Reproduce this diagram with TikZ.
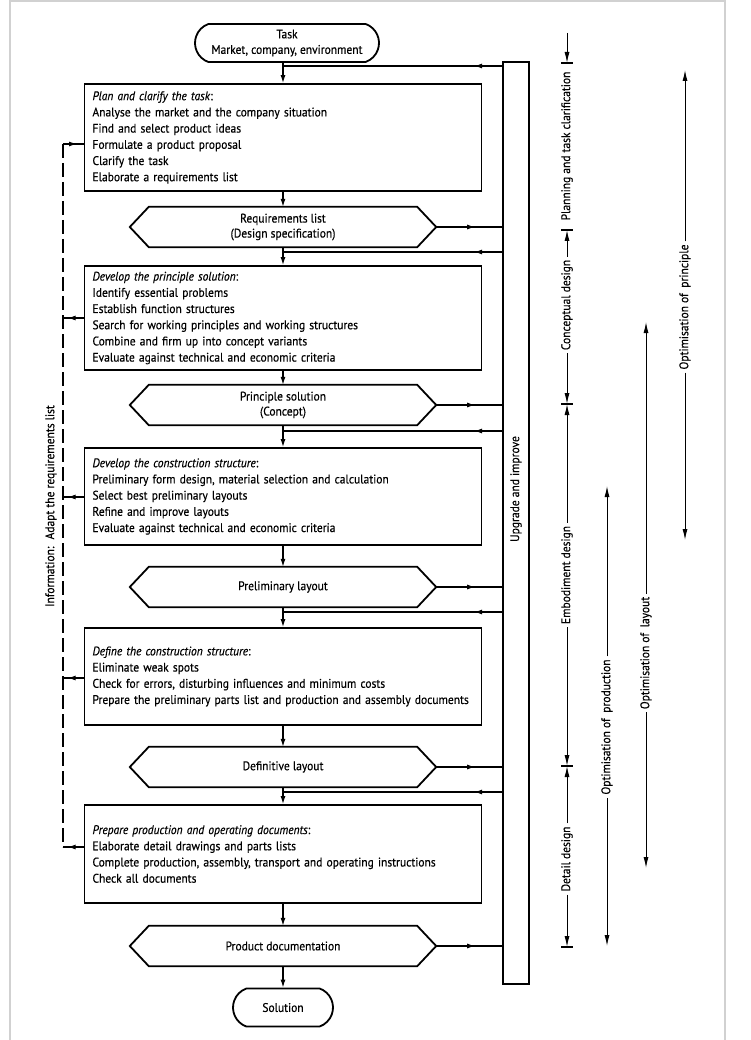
\documentclass[tikz,border=0pt]{standalone}
\usepackage{fontspec}
\setmainfont[FakeStretch=0.92,FakeBold=0.4]{PT Sans}
\usetikzlibrary{shapes.misc,arrows.meta,decorations.markings}
\begin{document}
\begin{tikzpicture}[x=1pt,y=-1pt,
  font=\fontsize{12.5}{16.2}\selectfont,
  boxst/.style={draw, line width=1.8pt, inner xsep=8pt, inner ysep=0pt, text width=381pt, align=left},
  hexst/.style={minimum width=306pt, minimum height=40pt, inner sep=0pt, align=center, font=\fontsize{12.5}{15}\selectfont},
  termst/.style={draw, line width=1.8pt, rounded rectangle, rounded rectangle arc length=140, minimum height=38pt, inner sep=0pt, align=center, font=\fontsize{12.5}{15.5}\selectfont},
  hexline/.style={line width=1.8pt, line join=miter},
  flowarrow/.style={line width=1.2pt, -{Latex[length=8pt,width=5pt]}},
  midarrow/.style={line width=1.2pt, postaction={decorate}, decoration={markings, mark=at position #1 with {\arrow{Latex[length=8pt,width=5pt]}}}},
  dimarrow/.style={line width=1pt, -{Latex[length=11pt,width=5pt]}},
  dimline/.style={line width=1.1pt},
  vlabel/.style={rotate=90, inner sep=3pt},
  dashline/.style={line width=1.2pt, dash pattern=on 14pt off 5pt},
  framest/.style={draw=black!18, line width=2pt},
]
\useasboundingbox (0,0) rectangle (750,1040);
\draw[framest] (10,1045) -- (10,1.5) -- (725,1.5) -- (725,1045);

\newcommand\hexoutline[1]{\draw[hexline] (#1.west) -- ([xshift=19pt]#1.north west) -- ([xshift=-19pt]#1.north east) -- (#1.east) -- ([xshift=-19pt]#1.south east) -- ([xshift=19pt]#1.south west) -- cycle;}

% terminals
\node[termst, minimum width=184pt] (task) at (287,43) {Task\\Market, company, environment};
\node[termst, minimum width=100pt] (sol) at (283,1007.5) {Solution};

% boxes
\node[boxst, minimum height=107pt] (box1) at (283,137.5) {\textit{Plan and clarify the task}:\\Analyse the market and the company situation\\Find and select product ideas\\Formulate a product proposal\\Clarify the task\\Elaborate a requirements list};
\node[boxst, minimum height=104pt] (box2) at (283,318) {\textit{Develop the principle solution}:\\Identify essential problems\\Establish function structures\\Search for working principles and working structures\\Combine and firm up into concept variants\\Evaluate against technical and economic criteria};
\node[boxst, minimum height=97pt] (box3) at (283,496.5) {\textit{Develop the construction structure}:\\Preliminary form design, material selection and calculation\\Select best preliminary layouts\\Refine and improve layouts\\Evaluate against technical and economic criteria};
\node[boxst, minimum height=97pt] (box4) at (283,676.5) {\textit{Define the construction structure}:\\Eliminate weak spots\\Check for errors, disturbing influences and minimum costs\\Prepare the preliminary parts list and production and assembly documents};
\node[boxst, minimum height=98pt] (box5) at (283,854) {\textit{Prepare production and operating documents}:\\Elaborate detail drawings and parts lists\\Complete production, assembly, transport and operating instructions\\Check all documents};

% hexagons
\node[hexst] (hex1) at (283,227) {Requirements list\\(Design specification)};
\node[hexst] (hex2) at (283,405) {Principle solution\\(Concept)};
\node[hexst] (hex3) at (283,587) {Preliminary layout};
\node[hexst] (hex4) at (283,767) {Definitive layout};
\node[hexst] (hex5) at (283,946) {Product documentation};
\hexoutline{hex1}\hexoutline{hex2}\hexoutline{hex3}\hexoutline{hex4}\hexoutline{hex5}

% upgrade bar
\node[draw, line width=1.8pt, minimum width=26pt, minimum height=922pt, inner sep=0pt] (bar) at (516,523) {};
\node[vlabel] (upg) at (516,489) {Upgrade and improve};

% main flow
\draw[flowarrow] (task.south -| box1.north) -- (box1.north);
\draw[flowarrow] (box1.south) -- (hex1.north);
\draw[flowarrow] (hex1.south) -- (box2.north);
\draw[flowarrow] (box2.south) -- (hex2.north);
\draw[flowarrow] (hex2.south) -- (box3.north);
\draw[flowarrow] (box3.south) -- (hex3.north);
\draw[flowarrow] (hex3.south) -- (box4.north);
\draw[flowarrow] (box4.south) -- (hex4.north);
\draw[flowarrow] (hex4.south) -- (box5.north);
\draw[flowarrow] (box5.south) -- (hex5.north);
\draw[flowarrow] (hex5.south) -- (sol.north);

% outputs to bar
\foreach \h in {hex1,hex2,hex3,hex4,hex5}
  \draw[midarrow=39pt] (\h.east) -- (\h.east -| bar.west);

% feedback from bar
\coordinate (fb0) at (283,66);
\coordinate (fb1) at (283,252);
\coordinate (fb2) at (283,431);
\coordinate (fb3) at (283,612);
\coordinate (fb4) at (283,792);
\foreach \f in {fb0,fb1,fb2,fb3,fb4}
  \draw[midarrow=28pt] (\f -| bar.west) -- (\f);

% left information line
\coordinate (dtop) at (63,144);
\coordinate (d2) at (63,318);
\coordinate (d3) at (63,497);
\coordinate (d4) at (63,678);
\coordinate (dbot) at (63,847);
\draw[dashline] (dtop) -- (dbot);
\draw[midarrow=14pt] (dtop) -- (dtop -| box1.west);
\draw[midarrow=16pt] (d2 -| box2.west) -- (d2);
\draw[midarrow=16pt] (d3 -| box3.west) -- (d3);
\draw[midarrow=16pt] (d4 -| box4.west) -- (d4);
\draw[midarrow=16pt] (dbot -| box5.west) -- (dbot);
\node[vlabel] (info) at (51,506) {Information:~ Adapt the requirements list};

% phase dimension column
\coordinate (t0) at (567,63);
\coordinate (t0a) at (567,33);
\coordinate (t1) at (567,230);
\coordinate (t2) at (567,404);
\coordinate (t3) at (567,766);
\coordinate (t4) at (567,947);
\foreach \t in {t0,t1,t2,t3,t4}
  \draw[dimline] ([xshift=-6pt]\t) -- ([xshift=6pt]\t);
\draw[dimarrow] (t0a) -- (t0);
\node[vlabel] (ph1) at (567,146) {Planning and task clarification};
\node[vlabel] (ph2) at (567,305) {Conceptual design};
\node[vlabel] (ph3) at (567,575) {Embodiment design};
\node[vlabel] (ph4) at (567,859) {Detail design};
\draw[dimarrow] (ph2.east) -- (t1);
\draw[dimarrow] (ph2.west) -- (t2);
\draw[dimarrow] (ph3.east) -- (t2);
\draw[dimarrow] (ph3.west) -- (t3);
\draw[dimarrow] (ph4.east) -- (t3);
\draw[dimarrow] (ph4.west) -- (t4);

% optimisation arrows
\coordinate (op1a) at (685,70);
\coordinate (op1b) at (685,540);
\node[vlabel] (op1) at (685,307) {Optimisation of\hspace{2.5pt} principle};
\draw[dimarrow] (op1.east) -- (op1a);
\draw[dimarrow] (op1.west) -- (op1b);

\coordinate (op2a) at (646,322);
\coordinate (op2b) at (646,868);
\node[vlabel] (op2) at (646,653) {Optimisation of\hspace{2.5pt} layout};
\draw[dimarrow] (op2.east) -- (op2a);
\draw[dimarrow] (op2.west) -- (op2b);

\coordinate (op3a) at (607,486);
\coordinate (op3b) at (607,946);
\node[vlabel] (op3) at (607,727) {Optimisation of\hspace{2.5pt} production};
\draw[dimarrow] (op3.east) -- (op3a);
\draw[dimarrow] (op3.west) -- (op3b);
\end{tikzpicture}
\end{document}
